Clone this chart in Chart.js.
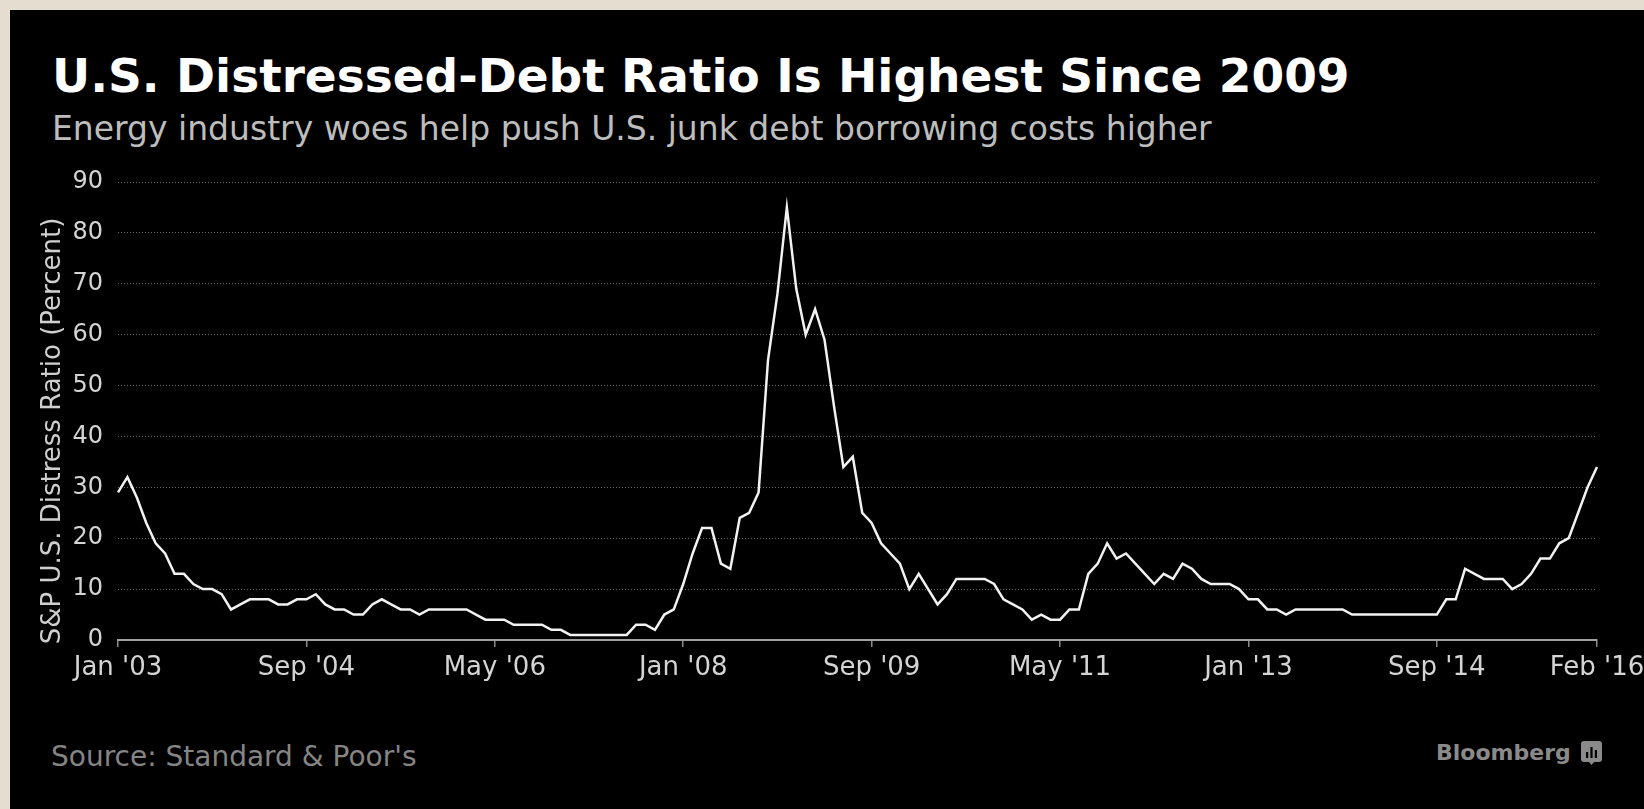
<!DOCTYPE html>
<html>
<head>
<meta charset="utf-8">
<script src="https://cdn.jsdelivr.net/npm/chart.js@4"></script>
<style>
  body { margin: 0; width: 1644px; height: 809px; background: #e4ddd0; overflow: hidden; font-family: "DejaVu Sans", sans-serif; }
  #panel { position: absolute; left: 10px; top: 10px; right: 0; bottom: 0; background: #000; }
  .txt { position: absolute; white-space: nowrap; line-height: 1; }
  #title { left: 52px; top: 52px; font-size: 47px; font-weight: bold; color: #fff; }
  #subtitle { left: 52px; top: 112px; font-size: 33px; color: #bdbdbd; }
  #source { left: 51px; top: 743px; font-size: 28px; color: #858585; }
  #brand { left: 1436px; top: 742px; font-size: 22px; font-weight: bold; color: #8a8a8a; }
  #logo { position: absolute; left: 1581px; top: 741px; }
  #chart { position: absolute; left: 0; top: 0; }
</style>
</head>
<body>
<div id="panel"></div>
<div class="txt" id="title">U.S. Distressed-Debt Ratio Is Highest Since 2009</div>
<div class="txt" id="subtitle">Energy industry woes help push U.S. junk debt borrowing costs higher</div>
<div class="txt" id="source">Source: Standard &amp; Poor's</div>
<div class="txt" id="brand">Bloomberg</div>
<svg id="logo" width="21" height="25" viewBox="0 0 21 25">
  <path d="M3 0 H18 Q21 0 21 3 V18 Q21 21 18 21 H13 L10.5 24 L8 21 H3 Q0 21 0 18 V3 Q0 0 3 0 Z" fill="#8a8a8a"/>
  <rect x="5" y="11" width="2.2" height="6" fill="#000"/>
  <rect x="9.4" y="6" width="2.2" height="11" fill="#000"/>
  <rect x="13.8" y="9" width="2.2" height="8" fill="#000"/>
</svg>
<canvas id="chart" width="1644" height="809"></canvas>
<script>
// monthly S&P distress ratio, Jan 2003 .. Feb 2016
const startYear = 2003;
const monthNames = ["Jan","Feb","Mar","Apr","May","Jun","Jul","Aug","Sep","Oct","Nov","Dec"];
const distressRatio = [
  29, 32, 28, 23, 19, 17, 13, 13, 11, 10,
  10, 9, 6, 7, 8, 8, 8, 7, 7, 8,
  8, 9, 7, 6, 6, 5, 5, 7, 8, 7,
  6, 6, 5, 6, 6, 6, 6, 6, 5, 4,
  4, 4, 3, 3, 3, 3, 2, 2, 1, 1,
  1, 1, 1, 1, 1, 3, 3, 2, 5, 6,
  11, 17, 22, 22, 15, 14, 24, 25, 29, 55,
  68, 85, 69, 60, 65, 59, 46, 34, 36, 25,
  23, 19, 17, 15, 10, 13, 10, 7, 9, 12,
  12, 12, 12, 11, 8, 7, 6, 4, 5, 4,
  4, 6, 6, 13, 15, 19, 16, 17, 15, 13,
  11, 13, 12, 15, 14, 12, 11, 11, 11, 10,
  8, 8, 6, 6, 5, 6, 6, 6, 6, 6,
  6, 5, 5, 5, 5, 5, 5, 5, 5, 5,
  5, 8, 8, 14, 13, 12, 12, 12, 10, 11,
  13, 16, 16, 19, 20, 25, 30, 34
];
const xTickLabels = ["Jan '03", "Sep '04", "May '06", "Jan '08", "Sep '09", "May '11", "Jan '13", "Sep '14", "Feb '16"];
const yAxisTitle = "S&P U.S. Distress Ratio (Percent)";

const months = [];
for (let i = 0; i < distressRatio.length; i++) {
  const y = startYear + Math.floor(i / 12);
  months.push(monthNames[i % 12] + " '" + String(y).slice(2));
}

// axis title drawn by hand so it sits where the original has it
const yTitlePlugin = {
  id: 'yTitle',
  afterDraw(chart) {
    const ctx = chart.ctx;
    ctx.save();
    ctx.translate(53, 431);
    ctx.rotate(-Math.PI / 2);
    ctx.font = '26px "DejaVu Sans"';
    ctx.fillStyle = '#cfcfcf';
    ctx.textAlign = 'center';
    ctx.textBaseline = 'middle';
    ctx.fillText(yAxisTitle, 0, 0);
    ctx.restore();
  }
};

new Chart(document.getElementById("chart"), {
  type: 'line',
  data: {
    labels: months,
    datasets: [{
      data: distressRatio,
      borderColor: '#f2f2f2',
      borderWidth: 2.5,
      pointRadius: 0,
      tension: 0,
      fill: false
    }]
  },
  options: {
    responsive: false,
    animation: false,
    layout: { padding: { top: 182, right: 47, bottom: 0, left: 0 } },
    plugins: { legend: { display: false }, tooltip: { enabled: false } },
    scales: {
      x: {
        type: 'category',
        offset: false,
        afterFit: s => { s.height = 169; s.paddingLeft = 0; s.paddingRight = 0; },
        border: { display: true, color: '#a0a0a0', width: 2 },
        grid: { display: true, drawOnChartArea: false, drawTicks: true, tickLength: 7, color: '#8a8a8a', lineWidth: 1.5 },
        ticks: {
          autoSkip: false,
          maxRotation: 0,
          padding: 6,
          color: '#d4d4d4',
          font: { family: 'DejaVu Sans', size: 26 },
          callback: function(value) {
            const lab = this.getLabelForValue(value);
            return xTickLabels.includes(lab) ? lab : null;
          }
        }
      },
      y: {
        min: 0,
        max: 90,
        afterFit: s => { s.width = 118; },
        border: { display: false, dash: [1, 2] },
        grid: {
          drawTicks: false,
          color: ctx => ctx.tick.value === 0 ? 'rgba(0,0,0,0)' : '#6a6a6a',
          lineWidth: 1
        },
        ticks: {
          stepSize: 10,
          padding: 15,
          color: '#d4d4d4',
          font: { family: 'DejaVu Sans', size: 24 }
        }
      }
    }
  },
  plugins: [yTitlePlugin]
});
</script>
</body>
</html>
